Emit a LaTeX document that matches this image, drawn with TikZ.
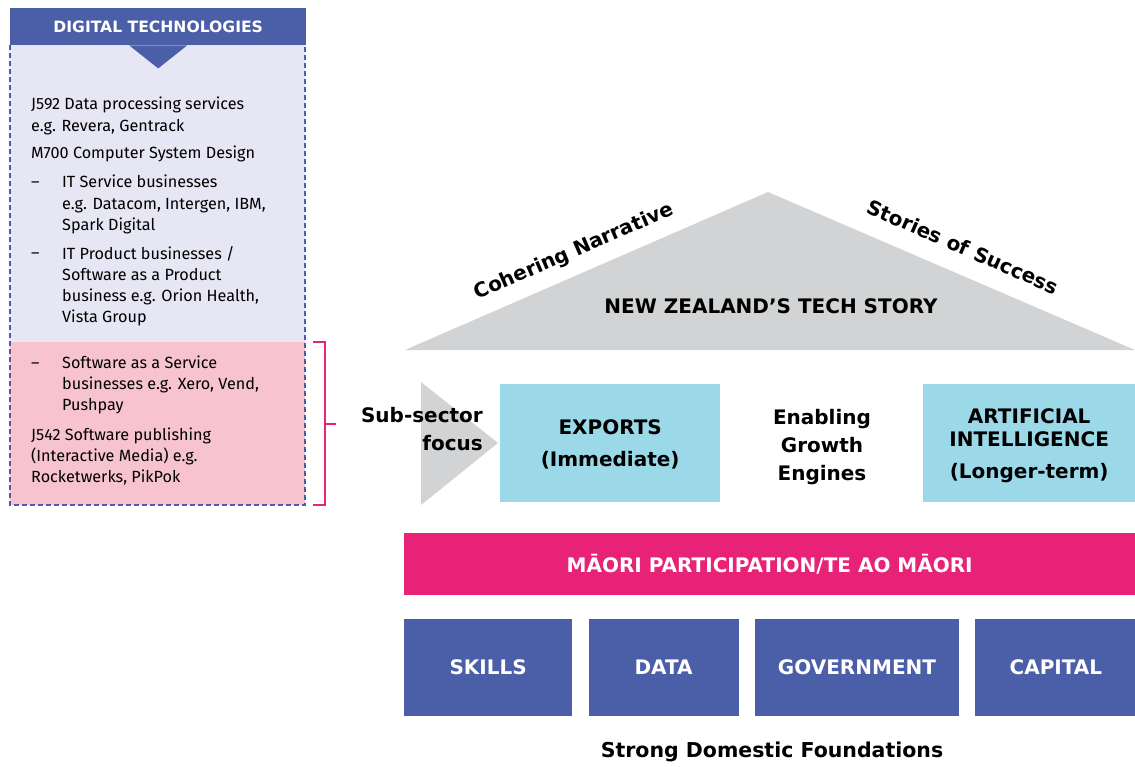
\documentclass[tikz,border=0pt]{standalone}
\usepackage{fontspec}
\setmainfont{Fira Sans}
\newfontfamily\headfont{DejaVu Sans}
\usetikzlibrary{positioning,calc}

\definecolor{dtblue}{HTML}{4B5FA9}
\definecolor{dtlilac}{HTML}{E6E6F4}
\definecolor{dtrose}{HTML}{F6C3CE}
\definecolor{dtpink}{HTML}{E82276}
\definecolor{dtcyan}{HTML}{9BD9E9}
\definecolor{dtgrey}{HTML}{D1D3D4}

\begin{document}
\begin{tikzpicture}[
    x=1pt, y=-1pt,
    listtext/.style={anchor=base west, inner sep=0pt, align=left, font=\fontsize{16.2}{21.3}\selectfont},
    heading/.style={inner sep=0pt, align=center, font=\headfont\bfseries\fontsize{20}{28}\selectfont},
    engine/.style={rectangle, fill=dtcyan, anchor=north west, minimum height=118pt, text depth=0pt, align=center, font=\headfont\bfseries\fontsize{20}{32}\selectfont},
    pillar/.style={rectangle, fill=dtblue, text=white, minimum height=97pt, inner sep=0pt, font=\headfont\bfseries\fontsize{20}{26}\selectfont},
    bracket/.style={dtpink, line width=1.5pt}
]
    \useasboundingbox (0,0) rectangle (1135,767);

    % Digital technologies list
    \fill[dtlilac] (10,45) rectangle (305,342);
    \fill[dtrose] (10,342) rectangle (305,505);
    \draw[dtblue, line width=1.5pt, dash pattern=on 5pt off 3pt] (10,45) -- (10,505) -- (305,505) -- (305,45);
    \node[fill=dtblue, text=white, anchor=north west, minimum width=296pt, minimum height=37pt, font=\headfont\bfseries\fontsize{15.6}{20}\selectfont] (dthead) at (10,8) {DIGITAL TECHNOLOGIES};
    \fill[dtblue] ($(dthead.south)+(-29,0)$) -- ($(dthead.south)+(0,23)$) -- ($(dthead.south)+(29,0)$) -- cycle;

    % (base = last line)
    \node[listtext] (jdata) at (31,131.3) {J592 Data processing services\\e.g. Revera, Gentrack};
    \node[listtext] (mdesign) at (31,159) {M700 Computer System Design};
    \node[listtext] (itservice) at (62,230.6) {IT Service businesses\\e.g. Datacom, Intergen, IBM,\\Spark Digital};
    \node[listtext] (itproduct) at (62,322.9) {IT Product businesses /\\Software as a Product\\business e.g. Orion Health,\\Vista Group};
    \node[listtext] (saas) at (62,410.6) {Software as a Service\\businesses e.g. Xero, Vend,\\Pushpay};
    \node[listtext] (jsoft) at (31,482.6) {J542 Software publishing\\(Interactive Media) e.g.\\Rocketwerks, PikPok};
    \foreach \y in {188,259,368}
        \node[listtext] (dash\y) at (31,\y) {--};

    % Bracket
    \draw[bracket] (313,342) -- (325,342) -- (325,505) -- (313,505);
    \draw[bracket] (325,424) -- (336,424);

    % Roof
    \fill[dtgrey] (405,350) -- (768,192) -- (1135,350) -- cycle;
    \node[heading] (story) at (771,306) {NEW ZEALAND’S TECH STORY};
    \node[heading, rotate=23.5] (cohering) at (574,252) {Cohering Narrative};
    \node[heading, rotate=-23.5] (stories) at (963,247) {Stories of Success};

    % Growth engines
    \fill[dtgrey] (421,382) -- (498,443) -- (421,505) -- cycle;
    \node[heading, align=right, anchor=east] (subsector) at (483,429) {Sub-sector\\focus};
    \node[engine, minimum width=220pt] (exports) at (500,384) {EXPORTS\\(Immediate)};
    \node[heading] (enabling) at (822,447) {Enabling\\Growth\\Engines};
    \node[engine, minimum width=212pt, font=\headfont\bfseries\fontsize{20}{23}\selectfont] (ai) at (923,384) {ARTIFICIAL\\INTELLIGENCE\\[9pt](Longer-term)};

    % Foundations
    \node[rectangle, fill=dtpink, text=white, anchor=north west, minimum width=731pt, minimum height=62pt, font=\headfont\bfseries\fontsize{20}{26}\selectfont] (maori) at (404,533) {MĀORI PARTICIPATION/TE AO MĀORI};
    \node[pillar, anchor=north west, minimum width=168pt] (skills) at (404,619) {SKILLS};
    \node[pillar, minimum width=150pt, right=16pt of skills] (data) {DATA};
    \node[pillar, minimum width=204pt, right=16pt of data] (gov) {GOVERNMENT};
    \node[pillar, minimum width=161pt, right=16pt of gov] (capital) {CAPITAL};
    \node[heading, font=\headfont\bfseries\fontsize{20.5}{28}\selectfont] (domestic) at (772,752) {Strong Domestic Foundations};
\end{tikzpicture}
\end{document}
